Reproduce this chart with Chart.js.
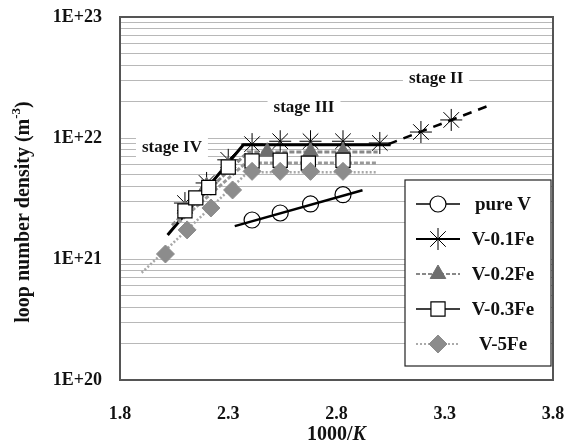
<!DOCTYPE html>
<html>
<head>
<meta charset="utf-8">
<script src="https://cdn.jsdelivr.net/npm/chart.js@4.4.1/dist/chart.umd.min.js"></script>
<style>
html, body { margin: 0; padding: 0; background: #fff; }
#wrap { width: 569px; height: 446px; position: relative; }
</style>
</head>
<body>
<div id="wrap"><canvas id="loopChart"></canvas></div>
<script>
// measured points: x = 1000/K, y = loop number density (m^-3)
const pureVx = [2.41, 2.54, 2.68, 2.83];
const pureVy = [2.1e21, 2.4e21, 2.85e21, 3.4e21];
const fe01x = [2.10, 2.20, 2.30, 2.41, 2.54, 2.68, 2.83, 3.00, 3.19, 3.33];
const fe01y = [2.9e21, 4.25e21, 6.6e21, 8.9e21, 9.4e21, 9.4e21, 9.4e21, 9.1e21, 1.12e22, 1.41e22];
const fe02x = [2.10, 2.20, 2.30, 2.48, 2.68, 2.83];
const fe02y = [2.6e21, 4.0e21, 5.9e21, 7.7e21, 7.7e21, 7.7e21];
const fe03x = [2.10, 2.15, 2.21, 2.30, 2.41, 2.54, 2.67, 2.83];
const fe03y = [2.5e21, 3.2e21, 3.9e21, 5.75e21, 6.45e21, 6.55e21, 6.2e21, 6.55e21];
const fe5x = [2.01, 2.11, 2.22, 2.32, 2.41, 2.54, 2.68, 2.83];
const fe5y = [1.1e21, 1.74e21, 2.64e21, 3.72e21, 5.3e21, 5.3e21, 5.3e21, 5.3e21];

// fitted lines (ends and knees)
const fitPureVx = [2.33, 2.92];
const fitPureVy = [1.87e21, 3.7e21];
const fitFe01x = [2.02, 2.37, 3.05];
const fitFe01y = [1.58e21, 8.8e21, 8.8e21];
const fitStage2x = [3.04, 3.51];
const fitStage2y = [8.9e21, 1.87e22];
const fitFe02x = [2.04, 2.39, 2.99];
const fitFe02y = [1.9e21, 7.65e21, 7.65e21];
const fitFe03x = [2.07, 2.38, 2.99];
const fitFe03y = [2.0e21, 6.2e21, 6.2e21];
const fitFe5x = [1.90, 2.39, 2.99];
const fitFe5y = [7.7e20, 5.2e21, 5.2e21];

const xTicks = [1.8, 2.3, 2.8, 3.3, 3.8];
const yTicks = [1e20, 1e21, 1e22, 1e23];
const yTickLabels = ['1E+20', '1E+21', '1E+22', '1E+23'];

const legendLabels = ['pure V', 'V-0.1Fe', 'V-0.2Fe', 'V-0.3Fe', 'V-5Fe'];

const stageLabels = ['stage II', 'stage III', 'stage IV'];
const stageX = [3.26, 2.65, 2.04];
const stageY = [3.1e22, 1.8e22, 8.4e21];

const FONT = '"Liberation Serif", "Times New Roman", serif';

function pts(xs, ys) {
    return xs.map(function (x, i) { return { x: x, y: ys[i] }; });
}

function fitLine(xs, ys, color, width, dash) {
    return {
        data: pts(xs, ys),
        showLine: true,
        borderColor: color,
        borderWidth: width,
        borderDash: dash,
        pointRadius: 0,
        order: 3
    };
}

// marker series, in legend order
const markerSets = [
    { label: 'pure V', data: pts(pureVx, pureVy), pointStyle: 'circle', pointRadius: 8,
      backgroundColor: '#fff', borderColor: '#000', pointBorderWidth: 1.2,
      legendLine: { color: '#000', width: 1.5, dash: [] } },
    { label: 'V-0.1Fe', data: pts(fe01x, fe01y), pointStyle: 'star', pointRadius: 11,
      backgroundColor: '#000', borderColor: '#000', pointBorderWidth: 1,
      legendLine: { color: '#000', width: 2, dash: [] } },
    { label: 'V-0.2Fe', data: pts(fe02x, fe02y), pointStyle: 'triangle', pointRadius: 9,
      backgroundColor: '#6e6e6e', borderColor: '#6e6e6e', pointBorderWidth: 1,
      legendLine: { color: '#888', width: 2, dash: [4, 2] } },
    { label: 'V-0.3Fe', data: pts(fe03x, fe03y), pointStyle: 'rect', pointRadius: 10,
      backgroundColor: '#fff', borderColor: '#000', pointBorderWidth: 1.2,
      legendLine: { color: '#000', width: 1.5, dash: [] } },
    { label: 'V-5Fe', data: pts(fe5x, fe5y), pointStyle: 'rectRot', pointRadius: 9,
      backgroundColor: '#8c8c8c', borderColor: '#8c8c8c', pointBorderWidth: 1,
      legendLine: { color: '#aaa', width: 2, dash: [2, 2] } }
];

const datasets = markerSets.map(function (m, i) {
    return {
        label: m.label,
        data: m.data,
        showLine: false,
        pointStyle: m.pointStyle,
        pointRadius: m.pointRadius,
        pointHoverRadius: m.pointRadius,
        pointBackgroundColor: m.backgroundColor,
        pointBorderColor: m.borderColor,
        pointBorderWidth: m.pointBorderWidth,
        order: 5 - i
    };
}).concat([
    fitLine(fitFe5x, fitFe5y, '#a8a8a8', 2.5, [2, 2]),
    fitLine(fitFe03x, fitFe03y, '#999', 3, [4, 2]),
    fitLine(fitFe02x, fitFe02y, '#888', 3, [5, 2]),
    fitLine(fitPureVx, fitPureVy, '#000', 2.5, []),
    fitLine(fitStage2x, fitStage2y, '#000', 2.5, [9, 7]),
    fitLine(fitFe01x, fitFe01y, '#000', 3, [])
]);

// border, stage texts, legend and axis titles
const overlay = {
    id: 'overlay',
    afterDraw: function (chart) {
        const ctx = chart.ctx;
        const a = chart.chartArea;
        const xs = chart.scales.x, ys = chart.scales.y;
        ctx.save();

        ctx.strokeStyle = '#555';
        ctx.lineWidth = 2;
        ctx.strokeRect(a.left, a.top, a.right - a.left, a.bottom - a.top);

        ctx.font = 'bold 17px ' + FONT;
        ctx.textAlign = 'center';
        ctx.textBaseline = 'middle';
        stageLabels.forEach(function (t, i) {
            const px = xs.getPixelForValue(stageX[i]);
            const py = ys.getPixelForValue(stageY[i]);
            const w = ctx.measureText(t).width;
            ctx.fillStyle = '#fff';
            ctx.fillRect(px - w / 2 - 6, py - 10, w + 12, 20);
            ctx.fillStyle = '#111';
            ctx.fillText(t, px, py);
        });

        // legend box
        const lx = 405, ly = 180, lw = 146, lh = 186;
        ctx.fillStyle = '#fff';
        ctx.fillRect(lx, ly, lw, lh);
        ctx.strokeStyle = '#222';
        ctx.lineWidth = 1.2;
        ctx.strokeRect(lx, ly, lw, lh);
        markerSets.forEach(function (m, i) {
            const cy = ly + 24 + i * 35;
            ctx.strokeStyle = m.legendLine.color;
            ctx.lineWidth = m.legendLine.width;
            ctx.setLineDash(m.legendLine.dash);
            ctx.beginPath();
            ctx.moveTo(416, cy);
            ctx.lineTo(460, cy);
            ctx.stroke();
            ctx.setLineDash([]);
            ctx.fillStyle = m.backgroundColor;
            ctx.strokeStyle = m.borderColor;
            ctx.lineWidth = m.pointBorderWidth;
            Chart.helpers.drawPoint(ctx, { pointStyle: m.pointStyle, radius: m.pointRadius, rotation: 0, borderWidth: m.pointBorderWidth }, 438, cy);
            ctx.fillStyle = '#111';
            ctx.font = 'bold 19px ' + FONT;
            ctx.textAlign = 'center';
            ctx.fillText(legendLabels[i], 503, cy + 1);
        });

        // x title: 1000/K
        ctx.fillStyle = '#111';
        ctx.textAlign = 'left';
        const xcx = (a.left + a.right) / 2;
        ctx.font = 'bold 20px ' + FONT;
        const w1 = ctx.measureText('1000/').width;
        ctx.font = 'italic bold 20px ' + FONT;
        const w2 = ctx.measureText('K').width;
        let sx = xcx - (w1 + w2) / 2;
        ctx.font = 'bold 20px ' + FONT;
        ctx.fillText('1000/', sx, 435);
        ctx.font = 'italic bold 20px ' + FONT;
        ctx.fillText('K', sx + w1, 435);

        // y title with superscript
        ctx.translate(24, 212);
        ctx.rotate(-Math.PI / 2);
        const main = 'loop number density (m';
        ctx.font = 'bold 20px ' + FONT;
        const m1 = ctx.measureText(main).width;
        const m3 = ctx.measureText(')').width;
        ctx.font = 'bold 13px ' + FONT;
        const m2 = ctx.measureText('-3').width;
        let tx = -(m1 + m2 + m3) / 2;
        ctx.font = 'bold 20px ' + FONT;
        ctx.fillText(main, tx, 0);
        ctx.font = 'bold 13px ' + FONT;
        ctx.fillText('-3', tx + m1, -7);
        ctx.font = 'bold 20px ' + FONT;
        ctx.fillText(')', tx + m1 + m2, 0);

        ctx.restore();
    }
};

Chart.defaults.font.family = FONT;
Chart.defaults.font.weight = 'bold';
Chart.defaults.font.size = 18;
Chart.defaults.color = '#111';

const ctx = document.getElementById('loopChart').getContext('2d');
new Chart(ctx, {
    type: 'scatter',
    data: { datasets: datasets },
    options: {
        responsive: true,
        maintainAspectRatio: false,
        animation: false,
        layout: { padding: { top: 17, right: 16, left: 0, bottom: 0 } },
        plugins: {
            legend: { display: false },
            tooltip: { enabled: false }
        },
        scales: {
            x: {
                type: 'linear',
                min: 1.8,
                max: 3.8,
                grid: { display: false },
                border: { display: false },
                afterBuildTicks: function (scale) {
                    scale.ticks = xTicks.map(function (v) { return { value: v }; });
                },
                afterFit: function (scale) {
                    scale.height = 66;
                    scale.paddingLeft = 0;
                    scale.paddingRight = 0;
                },
                ticks: {
                    padding: 16,
                    maxRotation: 0,
                    callback: function (value) { return Number(value).toFixed(1); }
                }
            },
            y: {
                type: 'logarithmic',
                min: 1e20,
                max: 1e23,
                grid: { color: '#b8b8b8', lineWidth: 1, drawTicks: false },
                border: { display: false },
                afterBuildTicks: function (scale) {
                    const t = [];
                    for (let d = 0; d < yTicks.length - 1; d++) {
                        for (let k = 1; k < 10; k++) t.push({ value: yTicks[d] * k });
                    }
                    t.push({ value: yTicks[yTicks.length - 1] });
                    scale.ticks = t;
                },
                afterFit: function (scale) {
                    scale.width = 120;
                    scale.paddingTop = 0;
                    scale.paddingBottom = 0;
                },
                ticks: {
                    padding: 18,
                    autoSkip: false,
                    callback: function (value) {
                        for (let i = 0; i < yTicks.length; i++) {
                            if (Math.abs(value / yTicks[i] - 1) < 1e-6) return yTickLabels[i];
                        }
                        return '';
                    }
                }
            }
        }
    },
    plugins: [overlay]
});
</script>
</body>
</html>
